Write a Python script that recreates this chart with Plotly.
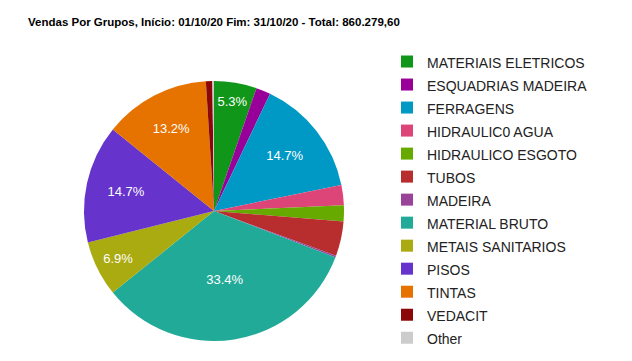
import plotly.graph_objects as go

categories = ["MATERIAIS ELETRICOS", "ESQUADRIAS MADEIRA", "FERRAGENS", "HIDRAULIC0 AGUA",
              "HIDRAULICO ESGOTO", "TUBOS", "MADEIRA", "MATERIAL BRUTO", "METAIS SANITARIOS",
              "PISOS", "TINTAS", "VEDACIT", "Other"]
values = [45595, 15485, 126461, 21507, 17206, 36992, 1721, 287333, 59359,
          126461, 113557, 6882, 1720]
colors = ["#109618", "#990099", "#0099c6", "#dd4477", "#66aa00", "#b82e2e", "#994499",
          "#22aa99", "#aaaa11", "#6633cc", "#e67300", "#8b0707", "#cccccc"]
title_text = "Vendas Por Grupos, Início: 01/10/20 Fim: 31/10/20 - Total: 860.279,60"

total = sum(values)
templates = ["%{percent:.1%}" if v / total >= 0.05 else "" for v in values]
legend_labels = ["<span style='font-size:14px'>" + c + "</span>" for c in categories]

W, H = 632, 361
cx, cy, r = 206, 203, 130

fig = go.Figure(go.Pie(
    labels=legend_labels, values=values, sort=False, direction="clockwise", rotation=0,
    marker=dict(colors=colors, line=dict(width=0)),
    texttemplate=templates, textposition="inside", insidetextorientation="horizontal",
    textfont=dict(family="Arial", size=13, color="white"),
    hoverinfo="label+value+percent",
    domain=dict(x=[(cx - r) / W, (cx + r) / W], y=[1 - (cy + r) / H, 1 - (cy - r) / H]),
))

fig.update_layout(
    width=W, height=H, margin=dict(l=0, r=0, t=0, b=0),
    paper_bgcolor="white", plot_bgcolor="white",
    font=dict(family="Arial", size=13, color="#222222"),
    title=dict(text="<b>" + title_text + "</b>", x=20 / W, xanchor="left", y=1 - 14 / H,
               yanchor="middle", font=dict(family="Arial", size=11.5, color="#000000")),
    legend=dict(x=379 / W, xanchor="left", y=1 - 37 / H, yanchor="top",
                font=dict(family="Arial", size=15.4, color="#222222"),
                traceorder="normal", bgcolor="rgba(0,0,0,0)"),
    showlegend=True,
)

fig.write_html("out.html")
